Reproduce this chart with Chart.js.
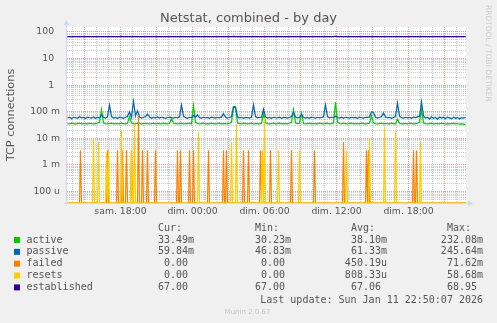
<!DOCTYPE html>
<html>
<head>
<meta charset="utf-8">
<script src="https://cdn.jsdelivr.net/npm/chart.js@4.4.1/dist/chart.umd.min.js"></script>
<style>
  html, body { margin: 0; padding: 0; background: #f0f0f0; }
  canvas { display: block; }
</style>
</head>
<body>
<canvas id="netstat" width="497" height="323"></canvas>
<script>
// time axis in minutes counted from sam. 00:00
const startMinute = 815;   // first sample, sam. 13:35
const xFrom = 812.5;
const xTo = 2807.5;

const seriesNames = ["active", "passive", "failed", "resets", "established"];
const seriesColors = ["#00cc00", "#0066b3", "#ff8000", "#ffcc00", "#330099"];

// passive / active / established : one sample every 10 min (milli-connections for the first two)
const passiveMilli = [
  58, 63, 55, 62, 60, 57, 65, 59, 61, 56,
  63, 60, 58, 64, 57, 61, 59, 75, 62, 58,
  64, 179, 66, 58, 61, 56, 63, 60, 57, 62,
  66, 100, 62, 245, 70, 109, 64, 58, 62, 66,
  82, 63, 57, 61, 59, 64, 58, 62, 60, 56,
  61, 63, 60, 58, 62, 59, 64, 179, 68, 60,
  57, 62, 60, 72, 63, 77, 60, 58, 62, 59,
  61, 57, 63, 60, 58, 62, 59, 64, 84, 62,
  58, 61, 66, 150, 145, 64, 59, 62, 57, 61,
  60, 58, 63, 183, 66, 59, 62, 60, 126, 64,
  58, 61, 57, 62, 60, 59, 63, 57, 61, 60,
  58, 62, 66, 95, 63, 59, 61, 80, 62, 58,
  61, 57, 63, 60, 58, 62, 59, 61, 64, 183,
  66, 59, 62, 60, 68, 61, 58, 63, 57, 62,
  60, 58, 62, 59, 61, 57, 63, 60, 58, 62,
  61, 64, 100, 94, 62, 58, 61, 66, 89, 63,
  59, 62, 57, 61, 66, 212, 68, 60, 58, 62,
  59, 61, 57, 63, 60, 64, 68, 238, 70, 58,
  62, 53, 64, 57, 61, 52, 63, 58, 62, 55,
  63, 59, 54, 62, 57, 61, 53, 60, 58, 60
];
const activeMilli = [
  36, 35, 37, 36, 35, 36, 37, 35, 36, 36,
  35, 37, 36, 35, 36, 37, 40, 119, 38, 36,
  35, 36, 37, 35, 36, 36, 35, 37, 36, 35,
  37, 65, 38, 36, 35, 37, 36, 35, 36, 37,
  36, 35, 36, 37, 35, 36, 36, 35, 37, 36,
  35, 36, 56, 37, 36, 35, 36, 37, 35, 36,
  36, 37, 35, 168, 40, 36, 35, 36, 37, 35,
  36, 35, 37, 36, 35, 36, 37, 35, 36, 36,
  35, 37, 40, 158, 160, 38, 36, 35, 37, 36,
  35, 36, 37, 35, 36, 36, 35, 37, 84, 38,
  36, 35, 36, 37, 35, 36, 37, 35, 36, 36,
  35, 37, 40, 119, 38, 36, 37, 89, 36, 35,
  36, 37, 35, 36, 36, 35, 37, 36, 35, 36,
  37, 35, 36, 38, 232, 40, 36, 35, 37, 36,
  35, 36, 37, 35, 36, 36, 35, 37, 36, 35,
  36, 37, 70, 38, 36, 35, 36, 37, 35, 36,
  36, 35, 37, 36, 35, 53, 37, 35, 36, 36,
  35, 37, 36, 35, 36, 37, 40, 119, 38, 36,
  35, 36, 37, 35, 36, 36, 35, 37, 36, 35,
  36, 35, 36, 37, 35, 36, 34, 35, 34, 33
];
const establishedVals = [
  67, 67, 67, 67, 67, 67, 67, 67, 67, 67, 67, 67, 67, 67, 67, 67, 67, 67, 67, 67,
  67, 67, 67, 67, 67, 67, 67, 68, 67, 67, 67, 67, 67, 67, 67, 67, 67, 67, 67, 67,
  67, 67, 67, 67, 67, 67, 67, 67, 67, 67, 67, 67, 67, 67, 67, 67, 67, 67, 67, 67,
  67, 67, 67, 67, 67, 67, 67, 67, 67, 67, 67, 67, 67, 67, 67, 67, 67, 67, 67, 67,
  67, 67, 67, 68, 67, 67, 67, 67, 67, 67, 67, 67, 67, 67, 67, 67, 67, 67, 67, 67,
  67, 67, 67, 67, 67, 67, 67, 67, 67, 67, 67, 67, 67, 67, 67, 67, 67, 67, 67, 67,
  67, 67, 67, 67, 67, 67, 67, 67, 67, 67, 67, 67, 67, 67, 69, 67, 67, 67, 67, 67,
  67, 67, 67, 67, 67, 67, 67, 67, 67, 67, 67, 67, 67, 67, 67, 67, 67, 67, 67, 67,
  67, 67, 67, 67, 67, 67, 67, 67, 67, 67, 67, 67, 67, 67, 67, 67, 67, 67, 67, 67,
  67, 67, 67, 67, 67, 67, 67, 67, 67, 67, 67, 67, 67, 67, 67, 67, 67, 67, 67, 67
];

// failed / resets : zero except these 5-min samples (index, milli-connections)
const failedAt = [13, 40, 50, 55, 59, 64, 71, 75, 80, 88, 110, 113, 122, 126, 141, 156, 159, 176, 181, 193, 203, 224, 247, 276, 299, 301, 346, 349];
const failedMilli = [3.6, 3.6, 3.6, 3.6, 3.6, 3.6, 71.6, 3.6, 3.6, 3.6, 3.6, 3.6, 3.6, 3.6, 3.6, 3.6, 3.6, 3.6, 3.6, 3.6, 3.6, 3.6, 3.6, 7.3, 3.6, 3.6, 3.6, 3.6];
const resetsAt = [26, 31, 39, 41, 54, 64, 67, 131, 164, 169, 195, 197, 211, 232, 279, 302, 317, 328, 353];
const resetsMilli = [10, 7.3, 2.8, 3.6, 20, 3.6, 35, 17, 7.3, 33, 3.6, 58.7, 3.6, 3.6, 3.6, 10, 27, 18, 7.3];
const fineSamples = 400;

const xTickMinutes = [1080, 1440, 1800, 2160, 2520];
const xTickLabels = ["sam. 18:00", "dim. 00:00", "dim. 06:00", "dim. 12:00", "dim. 18:00"];
const yMin = 3.7e-5;
const yMax = 154;
const yDecadeExp = [-4, -3, -2, -1, 0, 1, 2];
const yDecadeLabels = ["100 u", "1 m", "10 m", "100 m", "1  ", "10  ", "100  "];

const curText = ["33.49m", "59.84m", "0.00 ", "0.00 ", "67.00 "];
const minText = ["30.23m", "46.83m", "0.00 ", "0.00 ", "67.00 "];
const avgText = ["38.10m", "61.33m", "450.19u", "808.33u", "67.06 "];
const maxText = ["232.08m", "245.64m", "71.62m", "58.68m", "68.95 "];
const lastUpdate = "Last update: Sun Jan 11 22:50:07 2026";

const fontColor = "#555555";
const axisColor = "#cfd6f8";
const majorGrid = "rgba(220,130,130,0.75)";
const minorGrid = "rgba(190,190,190,0.8)";

let coarse = function (vals, scale) {
  return vals.map((v, k) => ({ x: startMinute + k * 10, y: v * scale }));
};

let spikes = function (at, vals) {
  let out = [];
  for (let j = 0; j < fineSamples; j++) {
    // zero cannot sit on a log axis, park it on the floor of the axis
    out.push({ x: startMinute + j * 5, y: yMin });
  }
  at.forEach((j, i) => { out[j].y = vals[i] / 1000; });
  return out;
};

const frame = {
  id: "frame",
  beforeDraw(chart) {
    const c = chart.ctx, a = chart.chartArea;
    c.save();
    c.fillStyle = "#f0f0f0";
    c.fillRect(0, 0, chart.width, chart.height);
    c.fillStyle = "#ffffff";
    c.fillRect(a.left, a.top, a.right - a.left, a.bottom - a.top);
    c.restore();
  },
  beforeDatasetsDraw(chart) {
    const c = chart.ctx, a = chart.chartArea;
    c.save();
    c.strokeStyle = axisColor;
    c.fillStyle = axisColor;
    c.lineWidth = 1;
    c.beginPath();
    c.moveTo(a.left - 0.5, a.bottom + 2);
    c.lineTo(a.left - 0.5, a.top - 3);
    c.moveTo(a.left - 3, a.bottom + 0.5);
    c.lineTo(a.right + 3, a.bottom + 0.5);
    c.stroke();
    // arrows
    c.beginPath();
    c.moveTo(a.left - 3.5, a.top - 2);
    c.lineTo(a.left + 2.5, a.top - 2);
    c.lineTo(a.left - 0.5, a.top - 7);
    c.fill();
    c.beginPath();
    c.moveTo(a.right + 2, a.bottom - 2.5);
    c.lineTo(a.right + 2, a.bottom + 3.5);
    c.lineTo(a.right + 7, a.bottom + 0.5);
    c.fill();
    c.restore();
  },
  afterDraw(chart) {
    const c = chart.ctx;
    c.save();
    c.fillStyle = fontColor;
    c.textBaseline = "middle";
    c.textAlign = "center";
    c.font = "13px 'DejaVu Sans'";
    c.fillText("Netstat, combined - by day", 248.5, 19);

    // legend
    c.font = "10px 'DejaVu Sans Mono'";
    const cols = [194, 291, 387, 483];
    const heads = ["Cur:", "Min:", "Avg:", "Max:"];
    const texts = [curText, minText, avgText, maxText];
    c.textAlign = "left";
    heads.forEach((h, i) => c.fillText(h, cols[i] - 36, 228));
    seriesNames.forEach((name, r) => {
      const y = 240 + r * 11.85;
      c.fillStyle = seriesColors[r];
      c.fillRect(14, y - 3, 6, 6);
      c.fillStyle = fontColor;
      c.textAlign = "left";
      c.fillText(name, 26.5, y);
      c.textAlign = "right";
      texts.forEach((t, i) => c.fillText(t[r], cols[i], y));
    });
    c.textAlign = "right";
    c.fillText(lastUpdate, 483, 300);

    c.fillStyle = "#c4c4c4";
    c.textAlign = "center";
    c.font = "7px 'DejaVu Sans'";
    c.fillText("Munin 2.0.67", 247.5, 312);

    c.translate(488, 5);
    c.rotate(Math.PI / 2);
    c.textAlign = "left";
    c.font = "7.5px 'DejaVu Sans'";
    c.fillStyle = "#cccccc";
    c.fillText("RRDTOOL / TOBI OETIKER", 0, 0);
    c.restore();
  },
};

const tickFont = { family: "DejaVu Sans", size: 9.3 };

new Chart(document.getElementById("netstat"), {
  type: "line",
  data: {
    datasets: [
      { label: "active", data: coarse(activeMilli, 0.001), borderColor: seriesColors[0], order: 5 },
      { label: "passive", data: coarse(passiveMilli, 0.001), borderColor: seriesColors[1], order: 4 },
      { label: "failed", data: spikes(failedAt, failedMilli), borderColor: seriesColors[2], order: 3 },
      { label: "resets", data: spikes(resetsAt, resetsMilli), borderColor: seriesColors[3], order: 2 },
      { label: "established", data: coarse(establishedVals, 1), borderColor: seriesColors[4], order: 1 },
    ],
  },
  options: {
    responsive: false,
    animation: false,
    events: [],
    parsing: true,
    layout: { padding: { left: 0, right: 31, top: 27, bottom: 0 } },
    elements: {
      point: { radius: 0 },
      line: { borderWidth: 1.2, tension: 0, fill: false },
    },
    plugins: { legend: { display: false }, tooltip: { enabled: false }, title: { display: false } },
    scales: {
      x: {
        type: "linear",
        min: xFrom,
        max: xTo,
        afterBuildTicks: (s) => {
          let t = [];
          for (let m = 840; m <= xTo; m += 60) t.push({ value: m });
          s.ticks = t;
        },
        afterFit: (s) => { s.height = 120; },
        ticks: {
          autoSkip: false,
          maxRotation: 0,
          padding: 3,
          color: fontColor,
          font: tickFont,
          callback: (v) => {
            const i = xTickMinutes.indexOf(v);
            return i >= 0 ? xTickLabels[i] : "";
          },
        },
        grid: {
          drawTicks: false,
          lineWidth: 1,
          color: (ctx) => (ctx.tick && ctx.tick.value % 180 === 0 ? majorGrid : minorGrid),
        },
        border: { display: false, dash: [1, 1] },
      },
      y: {
        type: "logarithmic",
        min: yMin,
        max: yMax,
        afterBuildTicks: (s) => {
          let t = [];
          for (let e = -5; e <= 2; e++) {
            for (let m = 1; m <= 9; m++) {
              const v = m * Math.pow(10, e);
              if (v >= yMin && v <= yMax) t.push({ value: v, dec: m === 1, exp: e });
            }
          }
          s.ticks = t;
        },
        afterFit: (s) => { s.width = 67; },
        title: {
          display: true,
          text: "TCP connections",
          color: fontColor,
          font: { family: "DejaVu Sans", size: 11.3 },
          padding: { top: 4, bottom: 0 },
        },
        ticks: {
          autoSkip: false,
          padding: 7,
          color: fontColor,
          font: tickFont,
          callback: (v, i, ticks) => {
            const t = ticks[i];
            if (!t.dec) return "";
            return yDecadeLabels[yDecadeExp.indexOf(t.exp)];
          },
        },
        grid: {
          drawTicks: false,
          lineWidth: 1,
          color: (ctx) => (ctx.tick && ctx.tick.dec ? majorGrid : minorGrid),
        },
        border: { display: false, dash: [1, 1] },
      },
    },
  },
  plugins: [frame],
});
</script>
</body>
</html>
